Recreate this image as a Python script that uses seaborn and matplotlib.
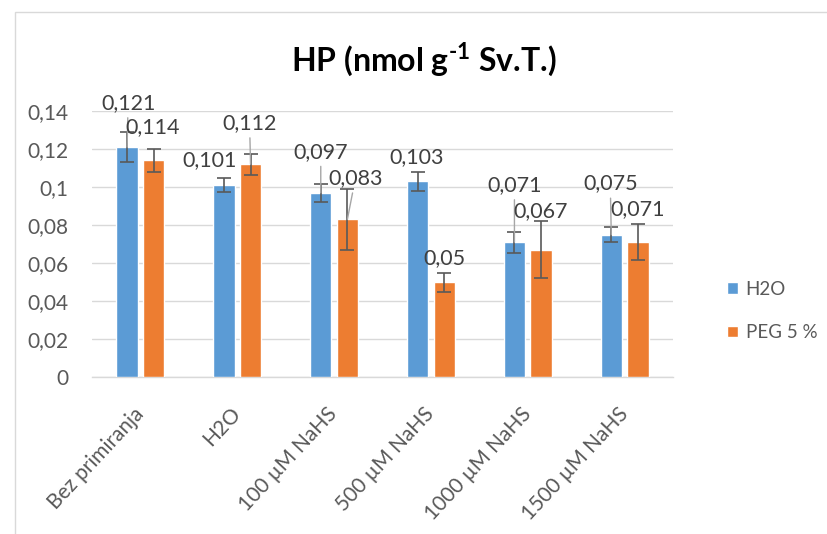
import matplotlib
matplotlib.use("Agg")
import matplotlib.pyplot as plt
import seaborn as sns
import pandas as pd
from matplotlib.patches import Rectangle

categories = ["Bez primiranja", "H2O", "100 µM NaHS", "500 µM NaHS", "1000 µM NaHS", "1500 µM NaHS"]
series_names = ["H2O", "PEG 5 %"]
h2o_values = [0.121, 0.101, 0.097, 0.103, 0.071, 0.075]
peg_values = [0.114, 0.112, 0.083, 0.050, 0.067, 0.071]
h2o_err = [0.008, 0.0035, 0.0047, 0.005, 0.0055, 0.004]
peg_err = [0.006, 0.0055, 0.016, 0.005, 0.015, 0.0095]
y_ticks = [0, 0.02, 0.04, 0.06, 0.08, 0.1, 0.12, 0.14]
y_tick_labels = ["0", "0,02", "0,04", "0,06", "0,08", "0,1", "0,12", "0,14"]

# label placement (pixel offsets) and leader lines
h2o_offsets = [(1, 44), (-14, 25), (0, 41), (-1, 24), (0, 57), (-1, 51)]
peg_offsets = [(-1, 33), (-1, 41), (8, 41), (0, 24), (0, 39), (0, 33)]
h2o_leader = [True, False, True, False, True, True]
peg_leader = [False, True, True, False, False, False]

colors = ["#5B9BD5", "#ED7D31"]

sns.set_theme(style="white")
plt.rcParams["font.family"] = ["Lato", "DejaVu Sans"]
plt.rcParams["mathtext.fontset"] = "custom"
plt.rcParams["mathtext.rm"] = "Lato"
plt.rcParams["mathtext.bf"] = "Lato:bold"

df = pd.DataFrame({
    "cat": categories * 2,
    "series": [series_names[0]] * 6 + [series_names[1]] * 6,
    "value": h2o_values + peg_values,
})

fig = plt.figure(figsize=(8.27, 5.34), dpi=100)
ax = fig.add_axes([92 / 827, 1 - 377 / 534, (673 - 92) / 827, (377 - 111) / 534])

# chart border
fig.patches.append(Rectangle((15 / 827, -0.1), 1.2, 1 - 12 / 534 + 0.1, transform=fig.transFigure,
                             fill=False, edgecolor="#d9d9d9", linewidth=1.0))

sns.barplot(data=df, x="cat", y="value", hue="series", palette=colors, ax=ax,
            width=0.55, gap=0.2, errorbar=None, saturation=1, legend=True, zorder=3)

ax.set_ylim(0, 0.14)
ax.set_yticks(y_ticks)
ax.set_yticklabels(y_tick_labels)
ax.yaxis.grid(True, color="#d9d9d9", linewidth=1.0, zorder=0)
ax.set_axisbelow(True)
for s in ["left", "right", "top"]:
    ax.spines[s].set_visible(False)
ax.spines["bottom"].set_color("#d9d9d9")
ax.spines["bottom"].set_linewidth(1.0)
ax.tick_params(axis="y", length=0, labelsize=15, colors="#595959", pad=17)
ax.tick_params(axis="x", length=0, labelsize=15, colors="#595959", pad=24)
ax.set_xlabel("")
ax.set_ylabel("")
for lbl in ax.get_xticklabels():
    lbl.set_rotation(47)
    lbl.set_ha("right")
    lbl.set_va("center")
    lbl.set_rotation_mode("anchor")
ax.set_xlim(-0.5, len(categories) - 0.5)

for container, vals, errs, offs, leads in [
    (ax.containers[0], h2o_values, h2o_err, h2o_offsets, h2o_leader),
    (ax.containers[1], peg_values, peg_err, peg_offsets, peg_leader),
]:
    xs = [p.get_x() + p.get_width() / 2 for p in container]
    ax.errorbar(xs, vals, yerr=errs, fmt="none", ecolor="#595959", elinewidth=1.2,
                capsize=5, capthick=1.2, zorder=4)
    for x, v, off, lead in zip(xs, vals, offs, leads):
        txt = ("%.3f" % v).rstrip("0").replace(".", ",")
        kw = {}
        if lead:
            kw["arrowprops"] = dict(arrowstyle="-", color="#a6a6a6", linewidth=1.0,
                                    shrinkA=1, shrinkB=0)
        ax.annotate(txt, xy=(x, v), xytext=off, textcoords="offset pixels",
                    ha="center", va="center", fontsize=15.5, color="#404040",
                    zorder=5, annotation_clip=False, **kw)

leg = ax.legend(loc="center left", bbox_to_anchor=(710 / 827, 1 - 311 / 534),
                bbox_transform=fig.transFigure, frameon=False, fontsize=13.5,
                handlelength=0.6, handleheight=0.6, labelspacing=1.4, handletextpad=0.4)
for t in leg.get_texts():
    t.set_color("#595959")

fig.text(424 / 827, 1 - 60 / 534, "HP (nmol g$^{\\mathbf{\u2010}\\mathbf{1}}$ Sv.T.)", ha="center", va="center",
         fontsize=23, fontweight="bold", color="black")

fig.savefig("out.png", dpi=100)
